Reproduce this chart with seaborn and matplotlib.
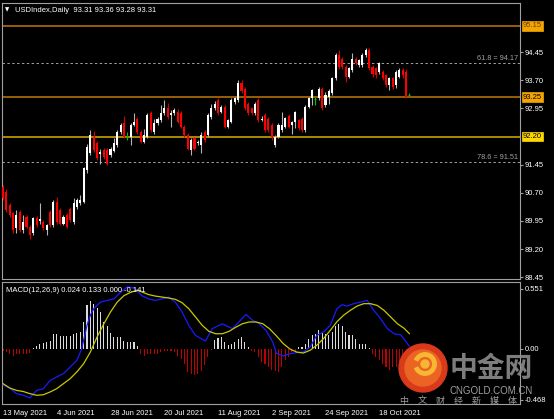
import numpy as np
import pandas as pd
import seaborn as sns
import matplotlib.pyplot as plt
from matplotlib.patches import Circle, Arc
import matplotlib.transforms as mtrans

# daily bars, index 0 = 13 May 2021
opens = [90.86, 90.73, 90.37, 90.15, 89.75, 90.20, 89.71, 90.06, 89.80, 89.62,
         90.02, 89.95, 89.93, 89.71, 90.20, 89.84, 90.46, 90.24, 89.88, 90.11,
         90.28, 89.93, 90.33, 90.42, 90.46, 91.31, 91.75, 92.20, 92.02, 91.73,
         91.84, 91.84, 91.71, 91.82, 91.97, 92.33, 92.55, 92.20, 92.20, 92.51,
         92.68, 92.33, 92.06, 92.20, 92.82, 92.33, 92.55, 92.64, 92.82, 92.95,
         92.77, 92.82, 92.86, 92.82, 92.46, 92.24, 91.84, 92.15, 92.02, 91.97,
         92.33, 92.24, 92.73, 92.95, 93.17, 92.86, 92.99, 92.46, 92.60, 93.13,
         93.17, 93.62, 93.48, 93.08, 92.95, 92.82, 93.17, 92.64, 92.77, 92.68,
         92.51, 91.97, 92.20, 92.37, 92.46, 92.75, 92.51, 92.60, 92.64, 92.68,
         92.37, 92.99, 93.22, 93.20, 93.22, 93.48, 93.04, 93.26, 93.35, 93.75,
         94.37, 94.28, 94.06, 93.80, 93.97, 94.28, 94.11, 94.11, 94.37, 94.52,
         94.06, 94.02, 93.93, 93.93, 93.84, 93.57, 93.75, 93.57, 93.80, 93.97,
         93.93, 93.31]
highs = [90.90, 90.80, 90.42, 90.20, 90.24, 90.25, 90.11, 90.12, 89.84, 90.06,
         90.08, 90.42, 89.97, 89.88, 90.25, 90.51, 90.60, 90.30, 90.10, 90.15,
         90.33, 90.55, 90.55, 90.64, 91.40, 92.00, 92.37, 92.35, 92.08, 91.88,
         91.90, 91.90, 91.93, 92.15, 92.38, 92.55, 92.75, 92.33, 92.55, 92.84,
         92.73, 92.38, 92.39, 92.82, 92.88, 92.68, 92.73, 93.04, 93.17, 93.10,
         92.92, 92.96, 92.93, 92.88, 92.50, 92.30, 92.15, 92.20, 92.11, 92.33,
         92.38, 92.82, 93.08, 93.15, 93.22, 93.04, 93.04, 92.68, 93.22, 93.26,
         93.71, 93.72, 93.53, 93.13, 93.00, 93.13, 93.22, 92.75, 92.82, 92.73,
         92.55, 92.24, 92.55, 92.86, 92.72, 92.80, 92.62, 92.88, 92.68, 92.72,
         93.04, 93.26, 93.46, 93.26, 93.53, 93.53, 93.40, 93.48, 93.80, 94.42,
         94.51, 94.33, 94.10, 94.06, 94.44, 94.33, 94.28, 94.42, 94.55, 94.56,
         94.10, 94.06, 94.20, 93.97, 93.88, 93.80, 93.80, 93.97, 94.02, 94.02,
         94.00, 93.36]
lows = [90.50, 90.20, 90.05, 89.62, 89.62, 89.66, 89.62, 89.75, 89.48, 89.58,
        89.80, 89.88, 89.70, 89.57, 89.80, 89.80, 89.88, 89.84, 89.84, 89.75,
        89.93, 89.88, 90.28, 90.37, 90.42, 91.24, 91.70, 91.78, 91.57, 91.48,
        91.60, 91.44, 91.66, 91.78, 91.93, 92.28, 92.15, 92.11, 91.97, 92.47,
        92.28, 92.02, 92.02, 92.15, 92.33, 92.28, 92.50, 92.60, 92.78, 92.68,
        92.46, 92.78, 92.55, 92.42, 92.20, 91.84, 91.72, 91.84, 91.97, 91.75,
        92.06, 92.20, 92.68, 92.91, 92.77, 92.82, 92.42, 92.42, 92.55, 93.08,
        93.13, 93.35, 92.90, 92.77, 92.77, 92.77, 92.60, 92.62, 92.33, 92.33,
        92.10, 91.93, 92.15, 92.33, 92.42, 92.42, 92.28, 92.42, 92.37, 92.33,
        92.33, 92.95, 93.04, 93.04, 93.17, 92.90, 93.00, 93.08, 93.31, 93.71,
        94.00, 94.00, 93.66, 93.75, 93.93, 94.10, 94.06, 94.06, 94.33, 93.97,
        93.80, 93.75, 93.88, 93.70, 93.53, 93.44, 93.48, 93.50, 93.75, 93.75,
        93.22, 93.28]
closes = [90.55, 90.24, 90.11, 89.71, 90.11, 89.71, 89.93, 89.80, 89.57, 90.02,
          89.84, 89.99, 89.75, 89.84, 89.84, 90.46, 89.93, 89.88, 90.06, 89.80,
          89.97, 90.42, 90.51, 90.51, 91.35, 91.93, 92.24, 91.84, 91.62, 91.80,
          91.66, 91.48, 91.88, 92.02, 92.33, 92.51, 92.20, 92.20, 92.51, 92.60,
          92.33, 92.06, 92.24, 92.77, 92.37, 92.55, 92.68, 92.82, 92.96, 92.73,
          92.84, 92.91, 92.60, 92.46, 92.24, 91.88, 92.11, 91.88, 92.06, 92.24,
          92.11, 92.77, 92.95, 93.08, 92.82, 92.99, 92.46, 92.64, 93.17, 93.22,
          93.62, 93.40, 92.95, 92.82, 92.82, 93.08, 92.64, 92.68, 92.37, 92.37,
          92.20, 92.20, 92.51, 92.51, 92.68, 92.46, 92.60, 92.86, 92.42, 92.37,
          92.99, 93.22, 93.44, 93.20, 93.48, 92.95, 93.31, 93.40, 93.75, 94.37,
          94.06, 94.06, 93.80, 94.02, 94.28, 94.15, 94.24, 94.37, 94.51, 94.02,
          93.88, 93.84, 94.17, 93.75, 93.57, 93.75, 93.53, 93.93, 93.97, 93.84,
          93.26, 93.31]

# MACD(12,26,9) histogram, one value per bar
hist = [-0.015, -0.03, -0.045, -0.06, -0.05, -0.045, -0.05, -0.045, -0.04, 0.01,
        0.03, 0.046, 0.055, 0.067, 0.076, 0.14, 0.14, 0.12, 0.12, 0.116,
        0.12, 0.14, 0.15, 0.16, 0.245, 0.40, 0.44, 0.41, 0.38, 0.34,
        0.245, 0.21, 0.15, 0.107, 0.107, 0.107, 0.076, 0.06, 0.06, 0.06,
        0.025, -0.045, -0.065, -0.045, -0.05, -0.05, -0.045, -0.03, -0.015, -0.015,
        -0.015, -0.03, -0.06, -0.09, -0.135, -0.21, -0.23, -0.24, -0.23, -0.2,
        -0.15, -0.075, -0.01, 0.08, 0.10, 0.107, 0.064, 0.034, 0.046, 0.06,
        0.09, 0.107, 0.06, 0.02, -0.015, -0.03, -0.075, -0.12, -0.135, -0.165,
        -0.19, -0.2, -0.21, -0.165, -0.1, -0.075, -0.03, -0.015, 0.02, 0.02,
        0.05, 0.095, 0.125, 0.14, 0.17, 0.15, 0.14, 0.125, 0.156, 0.21,
        0.226, 0.21, 0.156, 0.125, 0.125, 0.095, 0.05, 0.043, 0.05, 0.01,
        -0.045, -0.075, -0.1, -0.135, -0.165, -0.19, -0.165, -0.165, -0.14, -0.13,
        -0.12, -0.14]

# MACD main line (blue) and signal line (yellow), read at bar positions
macd_pos = [0, 2, 4, 6, 8, 10, 12, 14, 16, 18, 20, 22, 23.4, 24, 25, 26, 27, 29,
            31, 33, 35, 37, 39, 41.3, 43.3, 45.3, 47.3, 49.3, 51.3, 53.3, 55.3,
            57.3, 59.3, 60.3, 62.3, 64.3, 65.3, 68.3, 70.3, 72.3, 74.3, 76.3,
            78.3, 80.3, 81.4, 83.4, 85.4, 87.4, 89.4, 91.4, 93.4, 95.4, 97.4,
            99.4, 100.9, 102.4, 104.4, 106.4, 108.4, 110.4, 112.4, 114.4, 116.4,
            118.4, 121]
macd_val = [-0.33, -0.36, -0.41, -0.425, -0.45, -0.38, -0.364, -0.29, -0.257,
            -0.226, -0.165, -0.104, 0.0, 0.08, 0.217, 0.31, 0.37, 0.43, 0.446,
            0.46, 0.52, 0.57, 0.56, 0.49, 0.46, 0.446, 0.46, 0.477, 0.43, 0.34,
            0.217, 0.125, 0.09, 0.073, 0.187, 0.217, 0.23, 0.187, 0.25, 0.318,
            0.263, 0.232, 0.17, 0.064, -0.04, -0.064, -0.043, -0.034, -0.028,
            0.018, 0.125, 0.156, 0.217, 0.37, 0.407, 0.394, 0.416, 0.43, 0.446,
            0.355, 0.278, 0.187, 0.14, 0.13, 0.024]
sig_pos = [0, 2, 4, 6, 8, 10, 12, 14, 16, 18, 20, 22, 24, 26, 28, 30, 32, 34, 36,
           38, 40, 43.3, 45.3, 47.3, 49.3, 51.3, 53.3, 55.3, 57.3, 59.3, 61.3,
           63.3, 65.3, 67.3, 69.3, 71.3, 73.3, 75.3, 77.3, 79.3, 81.4, 83.4,
           85.4, 87.4, 89.4, 91.4, 93.4, 95.4, 97.4, 99.4, 101.4, 103.4, 105.4,
           107.4, 109.4, 111.4, 113.4, 115.4, 117.4, 119.4, 121]
sig_val = [-0.318, -0.358, -0.38, -0.39, -0.41, -0.425, -0.42, -0.395, -0.364,
           -0.318, -0.272, -0.21, -0.135, -0.028, 0.11, 0.23, 0.34, 0.43, 0.49,
           0.52, 0.54, 0.50, 0.486, 0.477, 0.468, 0.456, 0.425, 0.37, 0.294,
           0.217, 0.162, 0.14, 0.14, 0.162, 0.2, 0.232, 0.248, 0.248, 0.232,
           0.187, 0.12, 0.05, 0.0, -0.028, -0.037, -0.012, 0.034, 0.095, 0.17,
           0.25, 0.31, 0.355, 0.394, 0.416, 0.416, 0.40, 0.355, 0.294, 0.232,
           0.19, 0.14]

date_pos = [0, 16, 32, 48, 64, 80, 96, 112]
date_labels = ["13 May 2021", "4 Jun 2021", "28 Jun 2021", "20 Jul 2021",
               "11 Aug 2021", "2 Sep 2021", "24 Sep 2021", "18 Oct 2021"]
price_ticks = [94.45, 93.70, 92.95, 91.45, 90.70, 89.95, 89.20, 88.45]
macd_ticks = [0.551, 0.0, -0.468]
macd_tick_labels = ["0.551", "0.00", "-0.468"]
levels = [95.15, 93.25, 92.20]
fib_names = ["61.8", "78.6"]
fib_levels = [94.17, 91.51]

sns.set_theme(style="dark", rc={
    "figure.facecolor": "black", "axes.facecolor": "black",
    "axes.edgecolor": "#a0a0a0", "axes.linewidth": 0.8,
    "xtick.color": "#a0a0a0", "ytick.color": "#a0a0a0",
    "xtick.labelcolor": "white", "ytick.labelcolor": "white",
})
plt.rcParams['font.family'] = ['Liberation Sans', 'DejaVu Sans']

df = pd.DataFrame({"open": opens, "high": highs, "low": lows, "close": closes})
df["x"] = np.arange(len(df))
up = df[df.close > df.open]
dn = df[df.close < df.open]
dj = df[df.close == df.open]

W, H = 554, 419
fig = plt.figure(figsize=(W / 100, H / 100), dpi=100)
ax = fig.add_axes([2 / W, 1 - 279 / H, 518 / W, 276 / H])
ax2 = fig.add_axes([2 / W, 1 - 404 / H, 518 / W, 122 / H], sharex=ax)

# candles
ax.vlines(up.x, up.low, up.high, color="#b4b4b4", lw=0.8, zorder=3)
ax.vlines(dn.x, dn.low, dn.high, color="#d00000", lw=0.8, zorder=3)
ax.vlines(dj.x, dj.low, dj.high, color="#00c000", lw=0.8, zorder=3)
ax.bar(up.x, np.maximum(up.close - up.open, 0.03), bottom=up.open, width=0.62,
       color="white", lw=0, zorder=4)
ax.bar(dn.x, np.minimum(dn.close - dn.open, -0.03), bottom=dn.open, width=0.62,
       color="#ff0000", lw=0, zorder=4)
ax.hlines(dj.close, dj.x - 0.3, dj.x + 0.3, color="#00c000", lw=0.8, zorder=4)

# horizontal levels
level_cols = ["#c07a08", "#c07a08", "#d8b000"]
box_cols = ["#f5a500", "#f5a500", "#ffd800"]
box_txt = ["#6a4000", "black", "black"]
for lv, lc in zip(levels, level_cols):
    ax.axhline(lv, color=lc, lw=1.1, zorder=2)
for name, lv in zip(fib_names, fib_levels):
    ax.axhline(lv, color="#a0a0a0", lw=0.7, ls=(0, (2.5, 2.5)), zorder=2)
    ax.text(153.4, lv + 0.03, f"{name} = {lv:.2f}", color="#a0a0a0",
            fontsize=5.3, ha="right", va="bottom")

ax.set_xlim(-0.3, 153.9)
ax.set_ylim(88.40, 95.76)
ax.yaxis.tick_right()
ax.set_yticks(price_ticks)
ax.set_yticklabels([f"{p:.2f}" for p in price_ticks])
ax.tick_params(axis="y", labelsize=5.5, length=2, width=0.8, pad=1.5)
ax.tick_params(axis="x", bottom=False, labelbottom=False)
blend = mtrans.blended_transform_factory(ax.transAxes, ax.transData)
for lv, bc, tc in zip(levels, box_cols, box_txt):
    ax.text(1.006, lv, f"{lv:.2f}", transform=blend, fontsize=5.5, color=tc,
            ha="left", va="center", clip_on=False,
            bbox=dict(boxstyle="square,pad=0.15", fc=bc, ec=bc, lw=0.5))

# MACD panel
colors_h = np.where(np.array(hist) >= 0, "#dcdcdc", "#c00000")
ax2.bar(np.arange(len(hist)), hist, width=0.32, color=colors_h, lw=0, zorder=2)
sns.lineplot(x=macd_pos, y=macd_val, ax=ax2, color="#1a1aff", lw=0.9, zorder=3)
sns.lineplot(x=sig_pos, y=sig_val, ax=ax2, color="#c8c800", lw=0.9, zorder=3)
ax2.set_ylim(-0.505, 0.615)
ax2.yaxis.tick_right()
ax2.set_yticks(macd_ticks)
ax2.set_yticklabels(macd_tick_labels)
ax2.tick_params(axis="y", labelsize=5.5, length=2, width=0.8, pad=1.5)
ax2.set_xticks(date_pos)
ax2.set_xticklabels(date_labels, ha="left")
ax2.tick_params(axis="x", labelsize=5.5, length=3, width=0.8, pad=1.5)
ax2.set_xlabel("")
ax2.set_ylabel("")
ax2.text(0.008, 0.93, "MACD(12,26,9) 0.024 0.133 0.000 -0.141", transform=ax2.transAxes,
         color="white", fontsize=5.5, va="center")

fig.text(15 / W, 1 - 10 / H, "USDIndex,Daily  93.31 93.36 93.28 93.31", color="white",
         fontsize=5.5, va="center")
fig.text(5 / W, 1 - 10 / H, "\u25bc", color="white", fontsize=4, va="center",
         family=["DejaVu Sans"])

# watermark
ov = fig.add_axes([0, 0, 1, 1])
ov.set_xlim(0, W)
ov.set_ylim(H, 0)
ov.axis("off")
ov.add_patch(Circle((423, 368), 24, color="#d93a1a", zorder=5))
ov.add_patch(Circle((423, 368), 18, color="#ec6424", zorder=5))
ov.add_patch(Arc((425, 364), 19, 19, theta1=200, theta2=520, color="#f7b733", lw=3.5, zorder=6))
ov.add_patch(Circle((425, 364), 4, color="#f7b733", zorder=6))
cjk = ["Noto Sans CJK SC", "DejaVu Sans"]
ov.text(491, 369, "中金网", family=cjk, fontsize=20, fontweight="bold", color="#8c8c8c",
        alpha=0.9, ha="center", va="center", zorder=6)
ov.text(491, 390.5, "CNGOLD.COM.CN", fontsize=7, color="#a0a0a0",
        ha="center", va="center", zorder=6)
for k, ch in enumerate("中文财经新媒体"):
    ov.text(404 + k * 18, 401, ch, family=cjk, fontsize=6.5, color="#a0a0a0",
            ha="center", va="center", zorder=6)

fig.savefig("out.png", dpi=100, facecolor="black")
